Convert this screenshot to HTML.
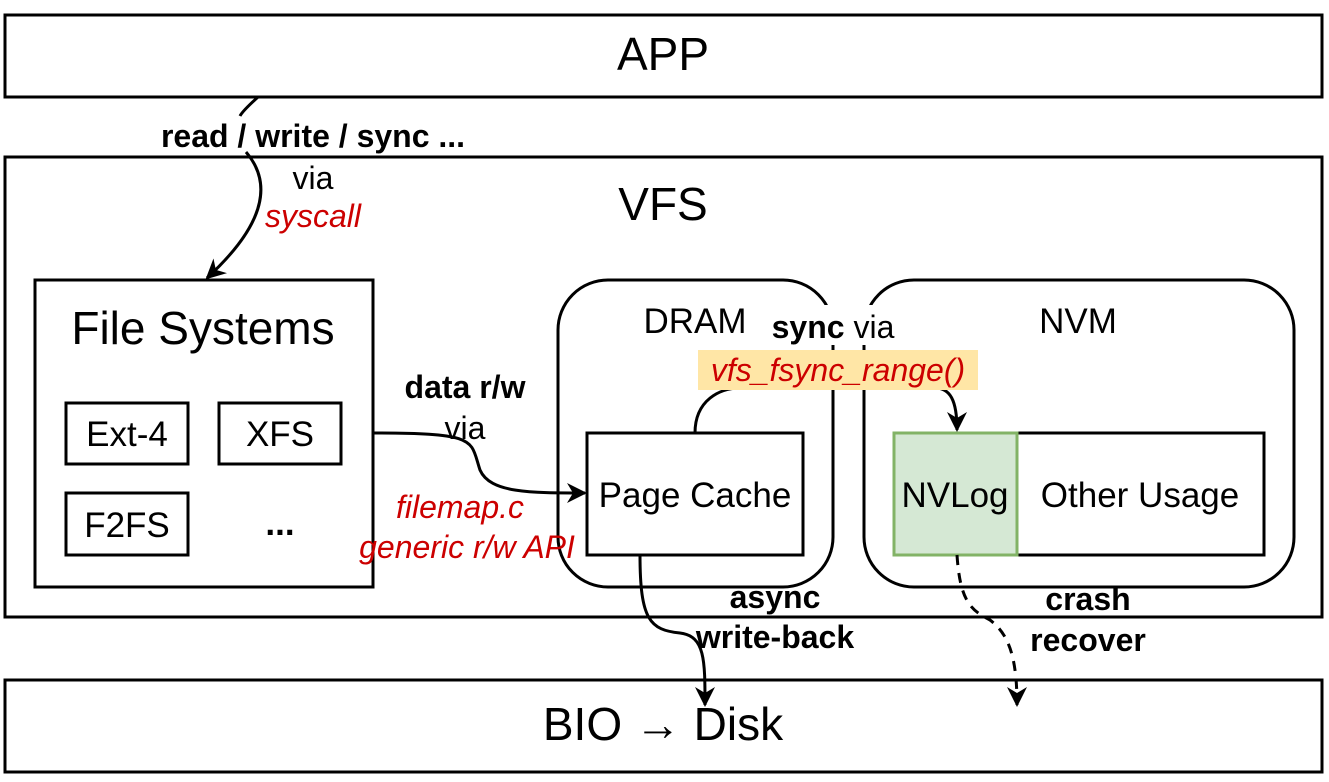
<!DOCTYPE html>
<html><head><meta charset="utf-8"><style>body{margin:0;background:#fff}svg{display:block}</style></head>
<body>
<svg width="1329" height="782" viewBox="0 0 1329 782" xmlns="http://www.w3.org/2000/svg" font-family="Liberation Sans, Arial, sans-serif">
<defs>
<marker id="a" viewBox="0 0 10 10" refX="9" refY="5" markerWidth="20" markerHeight="20" markerUnits="userSpaceOnUse" orient="auto"><path d="M0,0 L10,5 L0,10 L3,5 z" fill="#000"/></marker>
</defs>
<g fill="none" stroke="#000" stroke-width="3">
<rect x="5" y="15" width="1317" height="82" fill="#fff"/>
<rect x="5" y="157" width="1317" height="460" fill="#fff"/>
<rect x="5" y="680" width="1317" height="92" fill="#fff"/>
<rect x="35" y="280" width="338" height="307"/>
<rect x="66" y="403" width="122" height="61"/>
<rect x="219" y="403" width="122" height="61"/>
<rect x="66" y="493" width="122" height="62"/>
<rect x="558" y="280" width="275" height="307" rx="50"/>
<rect x="864" y="280" width="430" height="307" rx="50"/>
<rect x="587" y="433" width="216" height="122" fill="#fff"/>
<rect x="1017" y="433" width="247" height="122" fill="#fff"/>
</g>
<rect x="894" y="433" width="123" height="122" fill="#d5e8d4" stroke="#82b366" stroke-width="3"/>
<rect x="766" y="305" width="134" height="40" fill="#fff"/>
<g fill="none" stroke="#000" stroke-width="3">
<path d="M258,97 C248,106 242,112 240,116"/>
<path d="M246,152 C270,180 270,220 207,278" marker-end="url(#a)"/>
<path d="M373,433 C480,433 470,440 480,470 C490,493 530,493 585,493" marker-end="url(#a)"/>
<path d="M695,433 C695,400 720,388 740,388"/>
<path d="M935,388 C950,388 957,400 957,430" marker-end="url(#a)"/>
<path d="M640,555 C640,620 650,630 680,633 C705,636 705,660 705,705" marker-end="url(#a)"/>
<path d="M957,555 C960,600 970,610 990,620 C1010,635 1017,660 1017,705" stroke-dasharray="10,8" marker-end="url(#a)"/>
</g>
<rect x="698" y="350" width="280" height="40" fill="#ffe6a6"/>
<g font-size="46" text-anchor="middle">
<text x="663" y="70">APP</text>
<text x="663" y="220">VFS</text>
<text x="663" y="740">BIO → Disk</text>
<text x="203" y="344">File Systems</text>
</g>
<g font-size="35" text-anchor="middle">
<text x="127" y="446">Ext-4</text>
<text x="280" y="446">XFS</text>
<text x="127" y="537">F2FS</text>
<text x="280" y="535" font-weight="bold">...</text>
<text x="695" y="333">DRAM</text>
<text x="1078" y="333">NVM</text>
<text x="695" y="507">Page Cache</text>
<text x="955" y="507">NVLog</text>
<text x="1140" y="507">Other Usage</text>
</g>
<g font-size="32" text-anchor="middle">
<text x="313" y="147" font-weight="bold">read / write / sync ...</text>
<text x="313" y="189">via</text>
<text x="313" y="227" fill="#cc0000" font-style="italic">syscall</text>
<text x="465" y="398" font-weight="bold">data r/w</text>
<text x="465" y="439">via</text>
<text x="460" y="518" fill="#cc0000" font-style="italic">filemap.c</text>
<text x="467" y="558" fill="#cc0000" font-style="italic">generic r/w API</text>
<text x="833" y="338"><tspan font-weight="bold">sync</tspan> via</text>
<text x="838" y="381" fill="#cc0000" font-style="italic">vfs_fsync_range()</text>
<text x="775" y="608" font-weight="bold">async</text>
<text x="775" y="648" font-weight="bold">write-back</text>
<text x="1088" y="610" font-weight="bold">crash</text>
<text x="1088" y="651" font-weight="bold">recover</text>
</g>
</svg>
</body></html>
